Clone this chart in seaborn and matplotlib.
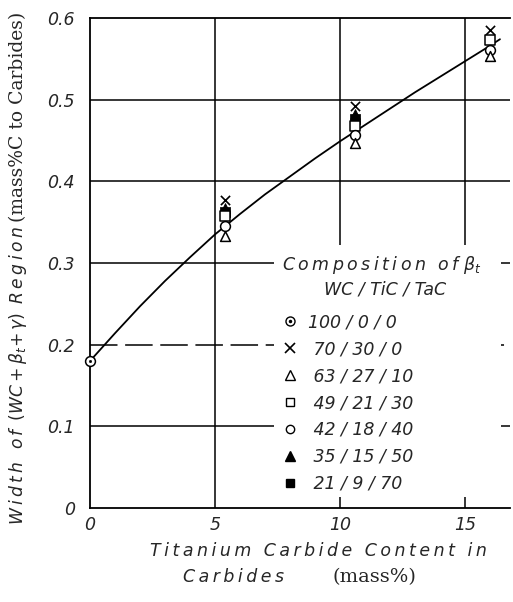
import matplotlib
matplotlib.use("Agg")
import matplotlib.pyplot as plt
import seaborn as sns
from matplotlib.lines import Line2D
from matplotlib.patches import Rectangle
from matplotlib.legend_handler import HandlerTuple

# ---- data ----
compositions = ["100 / 0 / 0", " 70 / 30 / 0", " 63 / 27 / 10", " 49 / 21 / 30",
                " 42 / 18 / 40", " 35 / 15 / 50", " 21 / 9 / 70"]
x_100 = [0.0]
y_100 = [0.18]
x_70 = [5.4, 10.6, 16.0]
y_70 = [0.377, 0.492, 0.585]
x_63 = [5.4, 10.6, 16.0]
y_63 = [0.333, 0.447, 0.553]
x_49 = [5.4, 10.6, 16.0]
y_49 = [0.358, 0.468, 0.573]
x_42 = [5.4, 10.6, 16.0]
y_42 = [0.345, 0.457, 0.561]
x_35 = [5.4, 10.6]
y_35 = [0.367, 0.482]
x_21 = [5.4, 10.6]
y_21 = [0.362, 0.476]
curve_x = [0, 1, 2, 3, 4, 5, 6, 7, 8, 9, 10, 11, 12, 13, 14, 15, 16, 16.4]
curve_y = [0.18, 0.214, 0.247, 0.278, 0.307, 0.335, 0.36, 0.384, 0.406, 0.428,
           0.449, 0.469, 0.489, 0.509, 0.528, 0.547, 0.566, 0.574]
x_ticks = [0, 5, 10, 15]
x_ticklabels = ["0", "5", "10", "15"]
y_ticks = [0, 0.1, 0.2, 0.3, 0.4, 0.5, 0.6]
y_ticklabels = ["0", "0.1", "0.2", "0.3", "0.4", "0.5", "0.6"]

sns.set_theme(style="white")
plt.rcParams["font.family"] = ["DejaVu Sans"]
plt.rcParams["mathtext.fontset"] = "dejavusans"

fig = plt.figure(figsize=(5.13, 6.02), dpi=100)
ax = fig.add_axes([0.1754, 0.1561, 0.8187, 0.814])
ax.set_xlim(0, 16.8)
ax.set_ylim(0, 0.6)

# grid
for yv in [0.1, 0.3, 0.4, 0.5]:
    ax.axhline(yv, color="black", lw=1.1, zorder=1)
ax.axhline(0.2, color="black", lw=1.1, dashes=(18, 5), zorder=1)
for xv in [5, 10, 15]:
    ax.axvline(xv, color="black", lw=1.1, zorder=1)

# curve
sns.lineplot(x=curve_x, y=curve_y, ax=ax, color="black", lw=1.3, zorder=2,
             estimator=None, sort=False)

k = "black"
ms = 44
sns.scatterplot(x=x_21, y=y_21, ax=ax, marker="s", s=ms, color=k, edgecolor=k, zorder=3)
sns.scatterplot(x=x_35, y=y_35, ax=ax, marker="^", s=ms + 6, color=k, edgecolor=k, zorder=3)
sns.scatterplot(x=x_70, y=y_70, ax=ax, marker="x", s=ms, color=k, linewidth=1.2, zorder=4)
sns.scatterplot(x=x_49, y=y_49, ax=ax, marker="s", s=ms, facecolor="white", edgecolor=k, linewidth=1.1, zorder=4)
sns.scatterplot(x=x_42, y=y_42, ax=ax, marker="o", s=ms + 6, facecolor="white", edgecolor=k, linewidth=1.1, zorder=5)
sns.scatterplot(x=x_63, y=y_63, ax=ax, marker="^", s=ms + 6, facecolor="white", edgecolor=k, linewidth=1.1, zorder=5)
sns.scatterplot(x=x_100, y=y_100, ax=ax, marker="o", s=ms + 6, facecolor="white", edgecolor=k, linewidth=1.1, zorder=6, clip_on=False)
sns.scatterplot(x=x_100, y=y_100, ax=ax, marker="o", s=4, color=k, edgecolor=k, zorder=7, clip_on=False)

# axes styling
ax.set_xticks(x_ticks)
ax.set_xticklabels(x_ticklabels)
ax.set_yticks(y_ticks)
ax.set_yticklabels(y_ticklabels)
ax.tick_params(axis="x", length=0, labelsize=12.5, pad=5.5)
ax.tick_params(axis="y", length=0, labelsize=12.5, pad=11)
for lab in ax.get_xticklabels() + ax.get_yticklabels():
    lab.set_fontstyle("italic")
ax.spines["right"].set_visible(False)
for s in ["left", "bottom", "top"]:
    ax.spines[s].set_color("black")
    ax.spines[s].set_linewidth(1.3)
ax.set_xlabel("")
ax.set_ylabel("")

# legend background, title and entries
ax.add_patch(Rectangle((0.438, 0.022), 0.54, 0.515, transform=ax.transAxes,
                       facecolor="white", edgecolor="none", zorder=7))
ts = "\u2009"
ax.text(0.695, 0.496, ts.join("Composition of") + " $\\beta_t$", transform=ax.transAxes,
        ha="center", va="center", fontsize=12.5, style="italic", zorder=9)
ax.text(0.702, 0.445, "WC / TiC / TaC", transform=ax.transAxes,
        ha="center", va="center", fontsize=12.5, style="italic", zorder=9)

msz = 6.5
h100 = (Line2D([], [], ls="", marker="o", ms=msz, mfc="white", mec=k),
        Line2D([], [], ls="", marker="o", ms=1.5, mfc=k, mec=k))
handles = [
    h100,
    Line2D([], [], ls="", marker="x", ms=msz, mec=k, mew=1.2),
    Line2D([], [], ls="", marker="^", ms=msz, mfc="white", mec=k),
    Line2D([], [], ls="", marker="s", ms=msz - 0.5, mfc="white", mec=k),
    Line2D([], [], ls="", marker="o", ms=msz - 0.5, mfc="white", mec=k),
    Line2D([], [], ls="", marker="^", ms=msz, mfc=k, mec=k),
    Line2D([], [], ls="", marker="s", ms=msz - 0.5, mfc=k, mec=k),
]
leg = ax.legend(handles, compositions, handler_map={tuple: HandlerTuple(ndivide=1)},
                loc="upper left", bbox_to_anchor=(0.438, 0.404),
                frameon=False, handlelength=1.4, handletextpad=0.35,
                labelspacing=0.51, borderpad=0.2, borderaxespad=0.0,
                prop={"style": "italic", "size": 12.5})
leg.set_zorder(9)

# axis labels
W, H = fig.get_size_inches() * fig.dpi
t1 = fig.text(0.035, 0.128, ts.join("Width of ") + "$(WC+\\beta_t\\!+\\gamma)$" + ts.join(" Region"),
              rotation=90, ha="center", va="bottom", fontsize=12.3, style="italic")
fig.canvas.draw()
bb = t1.get_window_extent()
fig.text(0.035, bb.y1 / H + 0.006, "(mass%C to Carbides)", rotation=90, ha="center",
         va="bottom", fontsize=13.5, family="DejaVu Serif")
fig.text(0.62, 1 - 551 / H, ts.join("Titanium Carbide Content in"), ha="center", va="center",
         fontsize=12.5, style="italic")
fig.text(0.357, 1 - 577 / H, ts.join("Carbides"), ha="left", va="center",
         fontsize=12.5, style="italic")
fig.text(0.648, 1 - 577 / H, "(mass%)", ha="left", va="center", fontsize=14,
         family="DejaVu Serif")

fig.savefig("out.png", dpi=100)
